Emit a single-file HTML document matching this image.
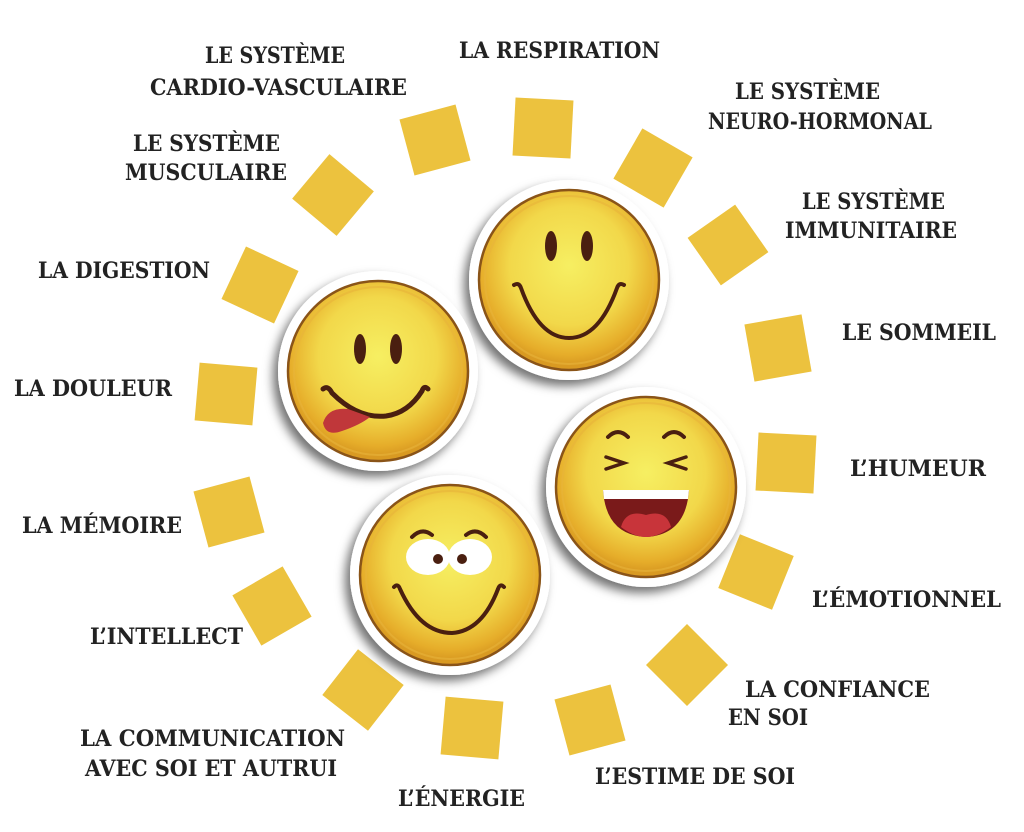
<!DOCTYPE html>
<html><head><meta charset="utf-8"><style>
html,body{margin:0;padding:0;background:#fff;}
svg{display:block}
text{font-family:"DejaVu Serif","Liberation Serif",serif;font-weight:bold;fill:#222;font-size:22px;}
</style></head><body>
<svg width="1024" height="832" viewBox="0 0 1024 832">
<defs>
<radialGradient id="f" cx="50%" cy="42%" r="55%">
<stop offset="0" stop-color="#f6ef62"/><stop offset="0.6" stop-color="#f2d84a"/><stop offset="0.9" stop-color="#e6ad2a"/><stop offset="1" stop-color="#d99a22"/>
</radialGradient>
<filter id="sh" x="-30%" y="-30%" width="160%" height="160%"><feDropShadow dx="-5" dy="6" stdDeviation="5" flood-color="#000" flood-opacity="0.55"/></filter>
<g id="base"><circle r="100" fill="#fff" filter="url(#sh)"/><circle r="90" fill="url(#f)" stroke="#8a5418" stroke-width="2.5"/><circle r="84" fill="none" stroke="#e7b43a" stroke-width="2" opacity="0.6"/></g>
</defs>
<g fill="#ecc23e">
<rect x="-29" y="-29" width="58" height="58" transform="translate(435,140) rotate(-15)"/>
<rect x="-29" y="-29" width="58" height="58" transform="translate(543,128) rotate(3)"/>
<rect x="-29" y="-29" width="58" height="58" transform="translate(653,168) rotate(30)"/>
<rect x="-29" y="-29" width="58" height="58" transform="translate(728,245) rotate(-35)"/>
<rect x="-29" y="-29" width="58" height="58" transform="translate(778,348) rotate(-10)"/>
<rect x="-29" y="-29" width="58" height="58" transform="translate(786,463) rotate(3)"/>
<rect x="-29" y="-29" width="58" height="58" transform="translate(756,572) rotate(22)"/>
<rect x="-29" y="-29" width="58" height="58" transform="translate(687,665) rotate(45)"/>
<rect x="-29" y="-29" width="58" height="58" transform="translate(590,720) rotate(-15)"/>
<rect x="-29" y="-29" width="58" height="58" transform="translate(472,728) rotate(5)"/>
<rect x="-29" y="-29" width="58" height="58" transform="translate(363,690) rotate(38)"/>
<rect x="-29" y="-29" width="58" height="58" transform="translate(272,606) rotate(-30)"/>
<rect x="-29" y="-29" width="58" height="58" transform="translate(229,512) rotate(-15)"/>
<rect x="-29" y="-29" width="58" height="58" transform="translate(226,394) rotate(5)"/>
<rect x="-29" y="-29" width="58" height="58" transform="translate(260,285) rotate(25)"/>
<rect x="-29" y="-29" width="58" height="58" transform="translate(333,195) rotate(40)"/>
</g>
<g transform="translate(569,280)">
<use href="#base"/>
<ellipse cx="-18" cy="-34" rx="6" ry="15" fill="#4a1f10"/><ellipse cx="18" cy="-34" rx="6" ry="15" fill="#4a1f10"/>
<path d="M-55 5 Q-50 2 -48 8 Q-30 58 0 58 Q30 58 48 8 Q50 2 55 5" fill="none" stroke="#4a1f10" stroke-width="4" stroke-linecap="round"/>
</g>
<g transform="translate(378,371)">
<use href="#base"/>
<ellipse cx="-18" cy="-22" rx="6" ry="15" fill="#4a1f10"/><ellipse cx="18" cy="-22" rx="6" ry="15" fill="#4a1f10"/>
<path d="M-55 18 Q-50 14 -46 22 Q-20 48 8 45 Q30 42 44 20 Q46 14 50 18" fill="none" stroke="#4a1f10" stroke-width="5" stroke-linecap="round"/>
<path d="M-30 38 Q-50 36 -55 52 Q-52 66 -36 60 Q-18 54 -8 46 Z" fill="#c0373a"/>
</g>
<g transform="translate(646,487)">
<use href="#base"/>
<path d="M-38 -50 Q-28 -60 -18 -50" fill="none" stroke="#4a1f10" stroke-width="4" stroke-linecap="round"/>
<path d="M18 -50 Q28 -60 38 -50" fill="none" stroke="#4a1f10" stroke-width="4" stroke-linecap="round"/>
<path d="M-40 -30 L-22 -24 L-40 -18" fill="none" stroke="#4a1f10" stroke-width="3.5" stroke-linecap="round"/>
<path d="M40 -30 L22 -24 L40 -18" fill="none" stroke="#4a1f10" stroke-width="3.5" stroke-linecap="round"/>
<path d="M-43 3 L43 3 Q40 48 0 50 Q-40 48 -43 3 Z" fill="#7a1a1a"/>
<path d="M-43 3 L43 3 L42 12 L-42 12 Z" fill="#fff"/>
<path d="M-25 40 Q-20 22 0 28 Q20 22 25 40 Q12 50 0 50 Q-12 50 -25 40Z" fill="#c8343a"/>
</g>
<g transform="translate(450,575)">
<use href="#base"/>
<ellipse cx="-22" cy="-18" rx="22" ry="18" fill="#fff"/><ellipse cx="20" cy="-18" rx="22" ry="18" fill="#fff"/>
<circle cx="-12" cy="-16" r="5" fill="#4a1f10"/><circle cx="12" cy="-16" r="5" fill="#4a1f10"/>
<path d="M-38 -38 Q-28 -48 -18 -40" fill="none" stroke="#4a1f10" stroke-width="4" stroke-linecap="round"/>
<path d="M16 -40 Q26 -48 36 -38" fill="none" stroke="#4a1f10" stroke-width="4" stroke-linecap="round"/>
<path d="M-56 12 Q-52 8 -50 14 Q-30 58 2 58 Q32 56 48 14 Q50 8 54 12" fill="none" stroke="#4a1f10" stroke-width="4" stroke-linecap="round"/>
</g>
<text x="205" y="63" textLength="140" lengthAdjust="spacingAndGlyphs">LE SYSTÈME</text>
<text x="150" y="95" textLength="257" lengthAdjust="spacingAndGlyphs">CARDIO-VASCULAIRE</text>
<text x="459" y="58" textLength="201" lengthAdjust="spacingAndGlyphs">LA RESPIRATION</text>
<text x="735" y="99" textLength="145" lengthAdjust="spacingAndGlyphs">LE SYSTÈME</text>
<text x="708" y="129" textLength="224" lengthAdjust="spacingAndGlyphs">NEURO-HORMONAL</text>
<text x="133" y="151" textLength="147" lengthAdjust="spacingAndGlyphs">LE SYSTÈME</text>
<text x="125" y="180" textLength="162" lengthAdjust="spacingAndGlyphs">MUSCULAIRE</text>
<text x="802" y="209" textLength="143" lengthAdjust="spacingAndGlyphs">LE SYSTÈME</text>
<text x="785" y="238" textLength="172" lengthAdjust="spacingAndGlyphs">IMMUNITAIRE</text>
<text x="38" y="278" textLength="172" lengthAdjust="spacingAndGlyphs">LA DIGESTION</text>
<text x="842" y="340" textLength="154" lengthAdjust="spacingAndGlyphs">LE SOMMEIL</text>
<text x="14" y="396" textLength="158" lengthAdjust="spacingAndGlyphs">LA DOULEUR</text>
<text x="850" y="476" textLength="136" lengthAdjust="spacingAndGlyphs">L’HUMEUR</text>
<text x="22" y="533" textLength="160" lengthAdjust="spacingAndGlyphs">LA MÉMOIRE</text>
<text x="812" y="607" textLength="189" lengthAdjust="spacingAndGlyphs">L’ÉMOTIONNEL</text>
<text x="90" y="644" textLength="153" lengthAdjust="spacingAndGlyphs">L’INTELLECT</text>
<text x="745" y="697" textLength="185" lengthAdjust="spacingAndGlyphs">LA CONFIANCE</text>
<text x="728" y="725" textLength="80" lengthAdjust="spacingAndGlyphs">EN SOI</text>
<text x="80" y="746" textLength="265" lengthAdjust="spacingAndGlyphs">LA COMMUNICATION</text>
<text x="85" y="776" textLength="252" lengthAdjust="spacingAndGlyphs">AVEC SOI ET AUTRUI</text>
<text x="595" y="784" textLength="200" lengthAdjust="spacingAndGlyphs">L’ESTIME DE SOI</text>
<text x="398" y="806" textLength="127" lengthAdjust="spacingAndGlyphs">L’ÉNERGIE</text>
</svg>
</body></html>
